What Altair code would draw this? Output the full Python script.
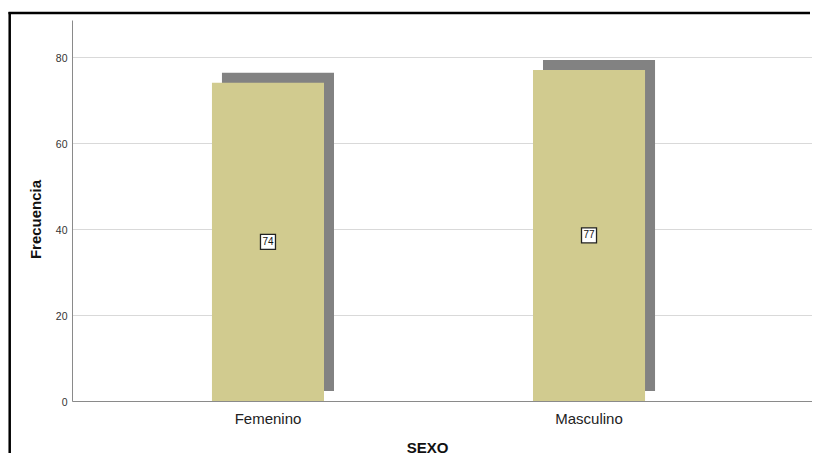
import altair as alt
import pandas as pd

categories = ["Femenino", "Masculino"]
counts = [74, 77]
y_ticks = [0, 20, 40, 60, 80]

df = pd.DataFrame({"SEXO": categories, "Frecuencia": counts})

FONT = "Liberation Sans"
W, H = 740, 381

y_scale = alt.Scale(domain=[0, 88.6], nice=False)

x_enc = alt.X(
    "SEXO:N",
    sort=categories,
    scale=alt.Scale(paddingInner=0.651, paddingOuter=0.478, align=0.456),
    axis=alt.Axis(
        title="SEXO",
        ticks=False,
        domainColor="#8a8a8a",
        domainWidth=1,
        labelAngle=0,
        labelBaseline="alphabetic",
        labelPadding=22,
        labelFontSize=15,
        labelFont=FONT,
        labelColor="#222222",
        titleFont=FONT,
        titleFontSize=15,
        titleFontWeight="bold",
        titleColor="#111111",
        titleBaseline="alphabetic",
        titleX=355,
        titleY=51,
    ),
)
y_enc = alt.Y(
    "Frecuencia:Q",
    scale=y_scale,
    axis=alt.Axis(
        title="Frecuencia",
        values=y_ticks,
        ticks=False,
        grid=True,
        gridColor="#d9d9d9",
        gridWidth=1,
        labelPadding=5,
        labelFontSize=10.5,
        labelFont=FONT,
        labelColor="#333333",
        labelOffset=1.5,
        domainColor="#8a8a8a",
        domainWidth=1,
        titleFont=FONT,
        titleFontSize=15,
        titleFontWeight="bold",
        titleColor="#111111",
        titleBaseline="alphabetic",
        titleX=-31.5,
        titleY=199,
    ),
)

base = alt.Chart(df)
one = alt.Chart(pd.DataFrame({"f": [0]}))

frame_top = one.mark_rule(color="black", strokeWidth=2.5).encode(
    x=alt.value(-63.5), x2=alt.value(738), y=alt.value(-7)
)
frame_left = one.mark_rule(color="black", strokeWidth=2.5).encode(
    x=alt.value(-62.3), y=alt.value(-8), y2=alt.value(433)
)

shadow = base.mark_bar(
    color="#828282", xOffset=10, x2Offset=10, yOffset=-10, y2Offset=-10
).encode(x=x_enc, y=y_enc)

bars = base.mark_bar(color="#d1cb8f").encode(x=x_enc, y=y_enc)

mid = base.transform_calculate(mid="datum.Frecuencia / 2")

box = mid.mark_square(
    size=225, fill="white", stroke="#222222", strokeWidth=1.3, opacity=1
).encode(x=x_enc, y=alt.Y("mid:Q"))

labels = mid.mark_text(
    font=FONT, fontSize=10, color="#111111", baseline="middle", align="center"
).encode(x=x_enc, y=alt.Y("mid:Q"), text="Frecuencia:Q")

chart = (
    alt.layer(frame_top, frame_left, shadow, bars, box, labels)
    .properties(
        width=W,
        height=H,
        autosize=alt.AutoSizeParams(type="none"),
        padding={"left": 64, "top": 12, "right": 0, "bottom": 54},
        background="white",
    )
    .configure_view(strokeWidth=0)
)

chart.save("out.html", embed_options={"renderer": "svg", "actions": False})
